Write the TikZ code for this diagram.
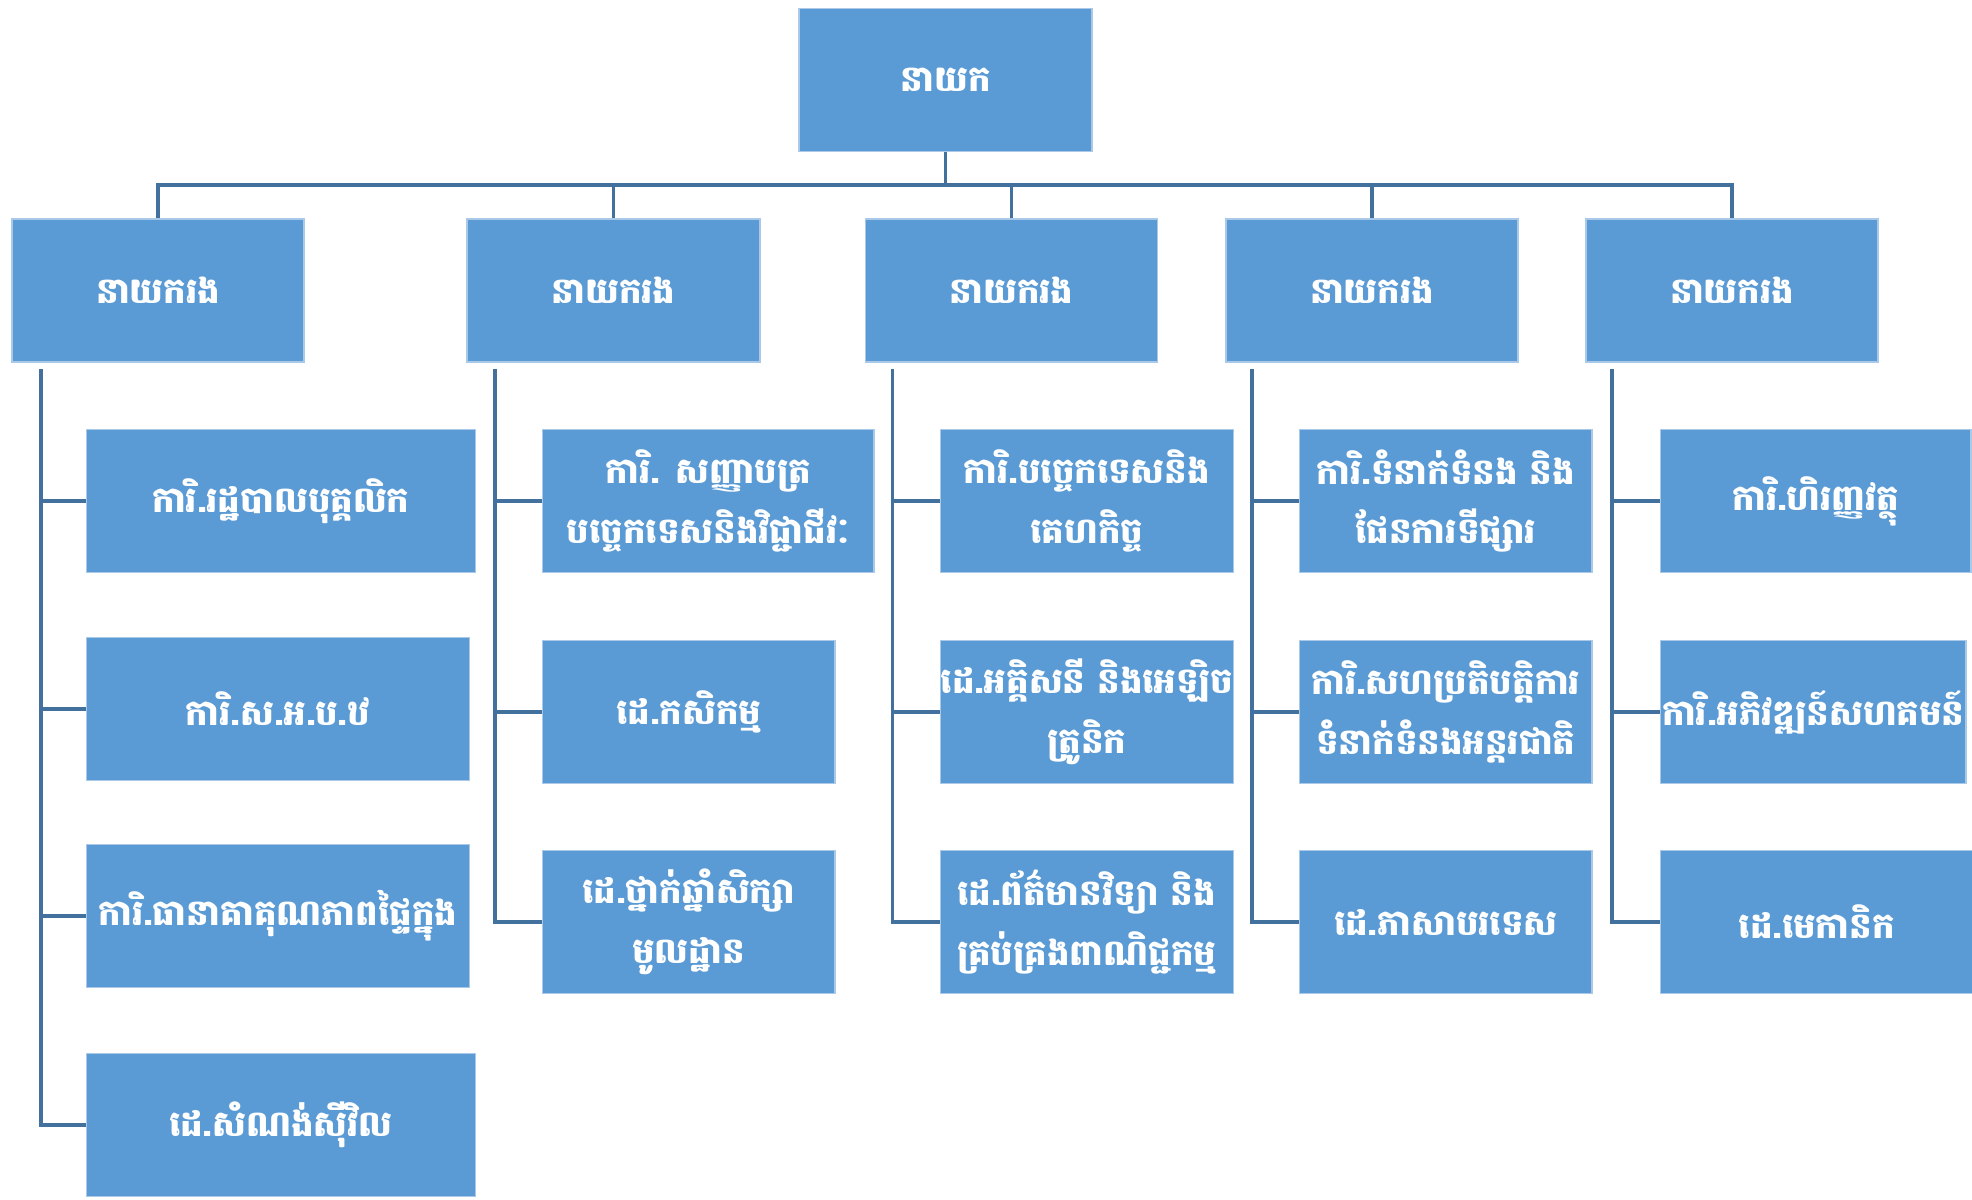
\documentclass[tikz,border=0pt]{standalone}
\usepackage{fontspec}
\newfontfamily\khmerfont[Script=Khmer]{Battambang}
\definecolor{boxblue}{RGB}{91,155,213}
\definecolor{boxedge}{RGB}{170,200,232}
\definecolor{linkblue}{RGB}{65,113,156}
\tikzset{
  box/.style={draw=boxedge,line width=0.4pt,fill=boxblue,text=white,align=center,inner sep=0pt,
    font=\khmerfont\bfseries\fontsize{10.1}{17}\selectfont,minimum height=1.43cm},
  link/.style={draw=linkblue,line width=1pt}
}
\begin{document}
\begin{tikzpicture}[x=0.01cm,y=-0.01cm]
\useasboundingbox (0,0) rectangle (1972,1200);

\node[box,minimum width=2.93cm] (head) at (945.5,80) {នាយក};
\coordinate (bus) at (945.5,185);

\node[box,minimum width=2.92cm] (depA) at (158,290.5) {នាយករង};
\node[box,minimum width=2.93cm] (depB) at (613.5,290.5) {នាយករង};
\node[box,minimum width=2.92cm] (depC) at (1011.5,290.5) {នាយករង};
\node[box,minimum width=2.92cm] (depD) at (1372,290.5) {នាយករង};
\node[box,minimum width=2.92cm] (depE) at (1732,290.5) {នាយករង};

\draw[link] (head.south) -- (bus);
\draw[link] (depA.north) -- (depA.north |- bus) -- (depE.north |- bus) -- (depE.north);
\draw[link] (depB.north) -- (depB.north |- bus);
\draw[link] (depC.north) -- (depC.north |- bus);
\draw[link] (depD.north) -- (depD.north |- bus);

\node[box,anchor=west,minimum width=3.89cm] (a1) at (85.5,501) {ការិ.រដ្ឋបាលបុគ្គលិក};
\node[box,anchor=west,minimum width=3.83cm] (a2) at (85.5,709) {ការិ.ស.អ.ប.ឋ};
\node[box,anchor=west,minimum width=3.83cm] (a3) at (85.5,916) {ការិ.ធានាគាគុណភាពផ្ទៃក្នុង};
\node[box,anchor=west,minimum width=3.89cm] (a4) at (85.5,1125) {ដេ.សំណង់ស៊ីវិល};

\node[box,anchor=west,minimum width=3.31cm] (b1) at (542,501) {ការិ. សញ្ញាបត្រ\\បច្ចេកទេសនិងវិជ្ជាជីវៈ};
\node[box,anchor=west,minimum width=2.92cm] (b2) at (542,712) {ដេ.កសិកម្ម};
\node[box,anchor=west,minimum width=2.92cm] (b3) at (542,922) {ដេ.ថ្នាក់ឆ្នាំសិក្សា\\មូលដ្ឋាន};

\node[box,anchor=west,minimum width=2.93cm] (c1) at (939.5,501) {ការិ.បច្ចេកទេសនិង\\គេហកិច្ច};
\node[box,anchor=west,minimum width=2.93cm] (c2) at (939.5,712) {ដេ.អគ្គិសនី និងអេឡិច\\ត្រូនិក};
\node[box,anchor=west,minimum width=2.93cm] (c3) at (939.5,922) {ដេ.ព័ត៌មានវិទ្យា និង\\គ្រប់គ្រងពាណិជ្ជកម្ម};

\node[box,anchor=west,minimum width=2.92cm] (d1) at (1299,501) {ការិ.ទំនាក់ទំនង និង\\ផែនការទីផ្សារ};
\node[box,anchor=west,minimum width=2.92cm] (d2) at (1299,712) {ការិ.សហប្រតិបត្តិការ\\ទំនាក់ទំនងអន្តរជាតិ};
\node[box,anchor=west,minimum width=2.92cm] (d3) at (1299,922) {ដេ.ភាសាបរទេស};

\node[box,anchor=west,minimum width=3.10cm] (e1) at (1660,501) {ការិ.ហិរញ្ញវត្ថុ};
\node[box,anchor=west,minimum width=3.05cm] (e2) at (1660,712) {ការិ.អភិវឌ្ឍន៍សហគមន៍};
\node[box,anchor=west,minimum width=3.12cm] (e3) at (1660,922) {ដេ.មេកានិក};

\coordinate (sA) at ([xshift=0.30cm,yshift=-0.06cm]depA.south west);
\coordinate (sB) at ([xshift=0.29cm,yshift=-0.06cm]depB.south west);
\coordinate (sC) at ([xshift=0.28cm,yshift=-0.06cm]depC.south west);
\coordinate (sD) at ([xshift=0.27cm,yshift=-0.06cm]depD.south west);
\coordinate (sE) at ([xshift=0.27cm,yshift=-0.06cm]depE.south west);

\draw[link] (sA) |- (a4.west);
\draw[link] (sA |- a1) -- (a1.west);
\draw[link] (sA |- a2) -- (a2.west);
\draw[link] (sA |- a3) -- (a3.west);

\draw[link] (sB) |- (b3.west);
\draw[link] (sB |- b1) -- (b1.west);
\draw[link] (sB |- b2) -- (b2.west);

\draw[link] (sC) |- (c3.west);
\draw[link] (sC |- c1) -- (c1.west);
\draw[link] (sC |- c2) -- (c2.west);

\draw[link] (sD) |- (d3.west);
\draw[link] (sD |- d1) -- (d1.west);
\draw[link] (sD |- d2) -- (d2.west);

\draw[link] (sE) |- (e3.west);
\draw[link] (sE |- e1) -- (e1.west);
\draw[link] (sE |- e2) -- (e2.west);
\end{tikzpicture}
\end{document}
